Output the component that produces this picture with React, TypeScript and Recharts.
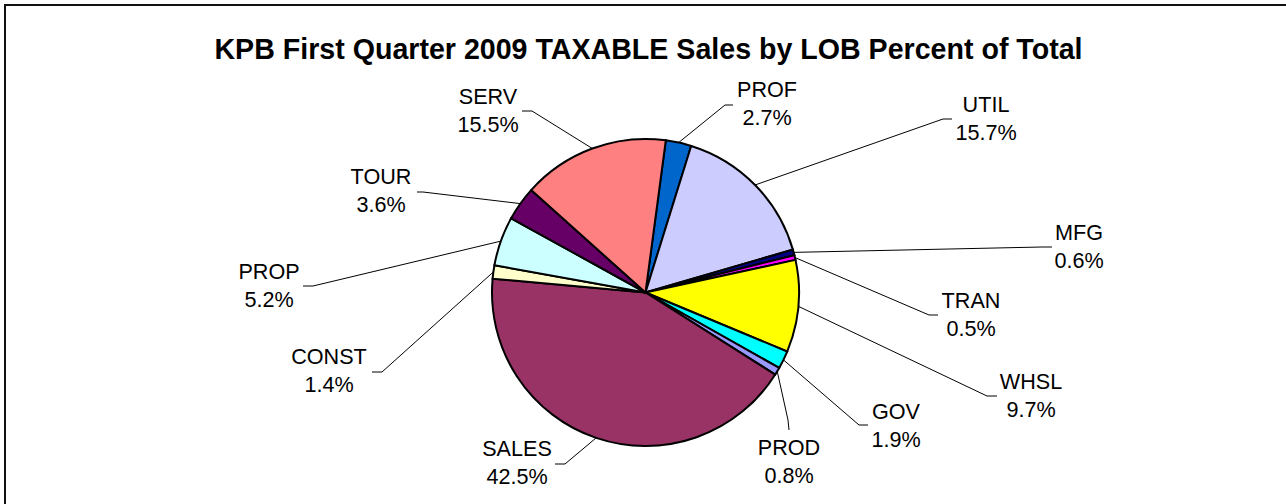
import React from 'react';
import { PieChart, Pie, Cell } from 'recharts';

// line of business, clockwise from the top of the pie
const lobNames = ['PROF', 'UTIL', 'MFG', 'TRAN', 'WHSL', 'GOV', 'PROD', 'SALES', 'CONST', 'PROP', 'TOUR', 'SERV'];
const lobShares = [2.7, 15.7, 0.6, 0.5, 9.7, 1.9, 0.8, 42.5, 1.4, 5.2, 3.6, 15.5];
const lobColors = ['#0066CC', '#CCCCFF', '#000080', '#FF00FF', '#FFFF00', '#00FFFF', '#9999FF', '#993366', '#FFFFCC', '#CCFFFF', '#660066', '#FF8080'];

const TITLE = 'KPB First Quarter 2009 TAXABLE Sales by LOB Percent of Total';

// where each data label sits (text centre x, first baseline y) and how its leader bends
const labelLayout: Record<string, { x: number; y: number; elbow: [number, number]; tail: [number, number] }> = {
  SERV: { x: 488, y: 104, elbow: [532, 111], tail: [522, 111] },
  PROF: { x: 767, y: 97, elbow: [725, 105], tail: [733, 105] },
  UTIL: { x: 986, y: 112, elbow: [943, 119], tail: [952, 119] },
  MFG: { x: 1079, y: 240, elbow: [1042, 247], tail: [1052, 247] },
  TRAN: { x: 971, y: 308, elbow: [929, 315], tail: [938, 315] },
  WHSL: { x: 1031, y: 389, elbow: [987, 396], tail: [997, 396] },
  GOV: { x: 896, y: 419, elbow: [859, 425], tail: [868, 425] },
  PROD: { x: 789, y: 455, elbow: [788, 420], tail: [789, 430] },
  SALES: { x: 517, y: 456, elbow: [565, 464], tail: [555, 464] },
  CONST: { x: 329, y: 364, elbow: [382, 372], tail: [372, 372] },
  PROP: { x: 269, y: 279, elbow: [313, 286], tail: [303, 286] },
  TOUR: { x: 381, y: 184, elbow: [423, 192], tail: [417, 192] },
};

const data = lobNames.map((name, i) => ({ name, value: lobShares[i] }));

const FONT = '"Liberation Sans", Arial, sans-serif';
const RAD = Math.PI / 180;

const renderLabel = (props: any) => {
  const { cx, cy, midAngle, outerRadius, name, value } = props;
  const key = name ?? props.payload?.name;
  const lay = labelLayout[key];
  if (!lay) return null;
  const sx = cx + outerRadius * Math.cos(-midAngle * RAD);
  const sy = cy + outerRadius * Math.sin(-midAngle * RAD);
  return (
    <g>
      <path
        d={`M${sx},${sy}L${lay.elbow[0]},${lay.elbow[1]}L${lay.tail[0]},${lay.tail[1]}`}
        stroke="#000"
        strokeWidth={1}
        fill="none"
      />
      <text x={lay.x} y={lay.y} textAnchor="middle" fontFamily={FONT} fontSize={21.6} fill="#000">
        {key}
      </text>
      <text x={lay.x} y={lay.y + 27.5} textAnchor="middle" fontFamily={FONT} fontSize={21.6} fill="#000">
        {`${Number(value).toFixed(1)}%`}
      </text>
    </g>
  );
};

const START = 90 - 7.6;

export default function App() {
  return (
    <div style={{ position: 'absolute', left: 0, top: 0, width: 1286, height: 504, background: '#fff', overflow: 'hidden' }}>
      <div
        style={{
          position: 'absolute',
          left: 4,
          top: 4,
          width: 1400,
          height: 600,
          border: '2px solid #111',
          boxSizing: 'border-box',
        }}
      />
      <div
        style={{
          position: 'absolute',
          left: 0,
          top: 32,
          width: 1297,
          textAlign: 'center',
          fontFamily: FONT,
          fontWeight: 'bold',
          fontSize: 28.6,
          lineHeight: '34px',
          color: '#000',
          whiteSpace: 'nowrap',
        }}
      >
        {TITLE}
      </div>
      <div style={{ position: 'absolute', left: 0, top: 0 }}>
        <PieChart width={1286} height={504} margin={{ top: 0, right: 0, bottom: 0, left: 0 }}>
          <Pie
            data={data}
            dataKey="value"
            nameKey="name"
            cx={645.5}
            cy={292.5}
            outerRadius={153.5}
            startAngle={START}
            endAngle={START - 360}
            stroke="#000"
            strokeWidth={2}
            label={renderLabel}
            labelLine={false}
            isAnimationActive={false}
          >
            {data.map((d, i) => (
              <Cell key={d.name} fill={lobColors[i]} />
            ))}
          </Pie>
        </PieChart>
      </div>
    </div>
  );
}
